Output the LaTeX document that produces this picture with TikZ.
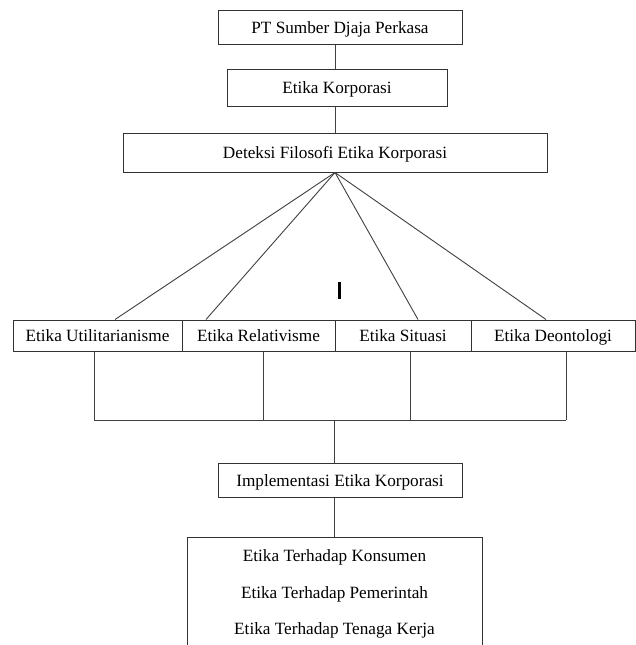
\documentclass[tikz,border=0pt]{standalone}
\usepackage{fontspec}
\setmainfont{Liberation Serif}
\begin{document}
\begin{tikzpicture}[x=1pt,y=1pt,
  box/.style={draw=black!80, line width=1pt, rectangle, inner sep=0pt, align=center, text height=13.5pt, text depth=1.5pt, font=\fontsize{17.2}{20}\selectfont},
  lbl/.style={inner sep=0pt, text height=13.5pt, text depth=1.5pt, font=\fontsize{17.2}{20}\selectfont},
  conn/.style={draw=black!75, line width=0.9pt}]
\clip (0,0) rectangle (636,-645);
\fill[white] (0,0) rectangle (636,-645);
% top chain
\node[box, minimum width=244, minimum height=34] (pt) at (340,-27) {PT Sumber Djaja Perkasa};
\node[box, minimum width=220, minimum height=37] (ek) at (337,-87.5) {Etika Korporasi};
\node[box, minimum width=424, minimum height=39] (df) at (335,-152.5) {Deteksi Filosofi Etika Korporasi};
% row of four
\node[box, minimum width=169, minimum height=31] (u) at (97.5,-335.5) {Etika Utilitarianisme};
\node[box, minimum width=153, minimum height=31] (r) at (258.5,-335.5) {Etika Relativisme};
\node[box, minimum width=136, minimum height=31] (s) at (403,-335.5) {Etika Situasi};
\node[box, minimum width=164, minimum height=31] (d) at (553,-335.5) {Etika Deontologi};
% implementation
\node[box, minimum width=244, minimum height=34] (im) at (340,-480) {Implementasi Etika Korporasi};
\node[box, minimum width=295, minimum height=140, anchor=north] (bx) at (334.5,-537) {};
\node[lbl] (k1) at (334.5,-555) {Etika Terhadap Konsumen};
\node[lbl] (k2) at (334.5,-592) {Etika Terhadap Pemerintah};
\node[lbl] (k3) at (334.5,-628) {Etika Terhadap Tenaga Kerja};
% cursor mark
\node[fill=black, minimum width=2.6, minimum height=17, inner sep=0pt] (cur) at (339.5,-290.5) {};
% coordinates
\coordinate (t1) at (115,0);
\coordinate (t2) at (206,0);
\coordinate (t3) at (418,0);
\coordinate (t4) at (546,0);
\coordinate (b1) at (94,-420);
\coordinate (b2) at (263,-420);
\coordinate (b3) at (410,-420);
\coordinate (b4) at (566,-420);
\coordinate (bm) at (334,-420);
% connectors
\draw[conn] (pt.south -| df.south) -- (ek.north -| df.south);
\draw[conn] (ek.south -| df.south) -- (df.north);
\draw[conn] (df.south) -- (u.north -| t1);
\draw[conn] (df.south) -- (r.north -| t2);
\draw[conn] (df.south) -- (s.north -| t3);
\draw[conn] (df.south) -- (d.north -| t4);
\draw[conn] (u.south -| b1) -- (b1);
\draw[conn] (r.south -| b2) -- (b2);
\draw[conn] (s.south -| b3) -- (b3);
\draw[conn] (d.south -| b4) -- (b4);
\draw[conn] (b1) -- (b4);
\draw[conn] (bm) -- (im.north -| bm);
\draw[conn] (im.south -| bm) -- (bx.north -| bm);
\end{tikzpicture}
\end{document}
